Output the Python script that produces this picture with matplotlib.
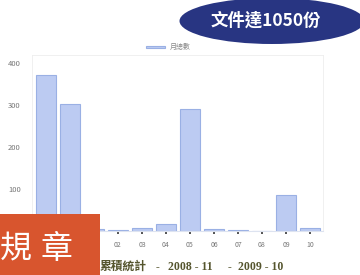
import matplotlib.pyplot as plt
from matplotlib.patches import Ellipse, Rectangle

plt.rcParams['font.family'] = ['Noto Sans CJK TC', 'DejaVu Sans']

# monthly totals, 2008-11 .. 2009-10
months = ['11', '12', '01', '02', '03', '04', '05', '06', '07', '08', '09', '10']
totals = [372, 303, 5, 3, 6, 16, 290, 4, 3, 0, 87, 7]
yticks = [100, 200, 300, 400]

fig = plt.figure(figsize=(3.6, 2.75), dpi=100)
fig.patch.set_facecolor('white')

# chart area (pixel layout of the reference, 360x275)
ax = fig.add_axes([32 / 360, 44 / 275, 291 / 360, 176 / 275])
x = range(len(months))
ax.bar(x, totals, width=0.8, color='#bccbf2', edgecolor='#9ab0e4', linewidth=0.8)
ax.set_xlim(-0.58, 11.54)
ax.set_ylim(0, 420)
ax.set_xticks(list(x))
ax.set_xticklabels(months, fontsize=5, color='#777777')
# the first three month labels sit under the red label box
for lab in ax.get_xticklabels()[:3]:
    lab.set_visible(False)
ax.set_yticks(yticks)
ax.set_yticklabels([str(v) for v in yticks], fontsize=5.5, color='#777777')
ax.tick_params(axis='x', length=2, width=1.2, color='#333333', pad=5)
ax.tick_params(axis='y', length=0, pad=8)
for side in ['top', 'right', 'left']:
    ax.spines[side].set_color('#eeeeee')
    ax.spines[side].set_linewidth(0.6)
ax.spines['bottom'].set_color('#dde3f0')

# legend
ax.legend(['月總數'], loc='lower center', bbox_to_anchor=(0.47, 0.985), frameon=False,
          fontsize=5, labelcolor='#888888', handlelength=2.6, handleheight=0.2)
leg = ax.get_legend()
for h in leg.legend_handles:
    h.set_height(1.5)

# overlay in pixel coordinates for the magazine decorations
ov = fig.add_axes([0, 0, 1, 1], zorder=10)
ov.set_xlim(0, 360)
ov.set_ylim(275, 0)
ov.axis('off')

footer = dict(fontsize=8.5, fontweight='bold', color='#55552e', va='center',
              family=['Liberation Serif', 'Noto Sans CJK TC'])
ov.text(100, 267, '累積統計', ha='left', **footer)
ov.text(157, 267, '-', ha='center', **footer)
ov.text(190, 267, '2008 - 11', ha='center', **footer)
ov.text(230, 267, '-', ha='center', **footer)
ov.text(261, 267, '2009 - 10', ha='center', **footer)

ov.add_patch(Rectangle((0, 214), 100, 61, facecolor='#d8552e', edgecolor='none'))
ov.text(16, 249, '規', fontsize=23, color='white', ha='center', va='center')
ov.text(56, 249, '章', fontsize=23, color='white', ha='center', va='center')

ov.add_patch(Ellipse((272, 21), 185, 46, facecolor='#283582', edgecolor='none'))
ov.text(266, 21, '文件達1050份', fontsize=12.5, fontweight='bold', color='white',
        ha='center', va='center')

fig.savefig('out.png', dpi=100)
